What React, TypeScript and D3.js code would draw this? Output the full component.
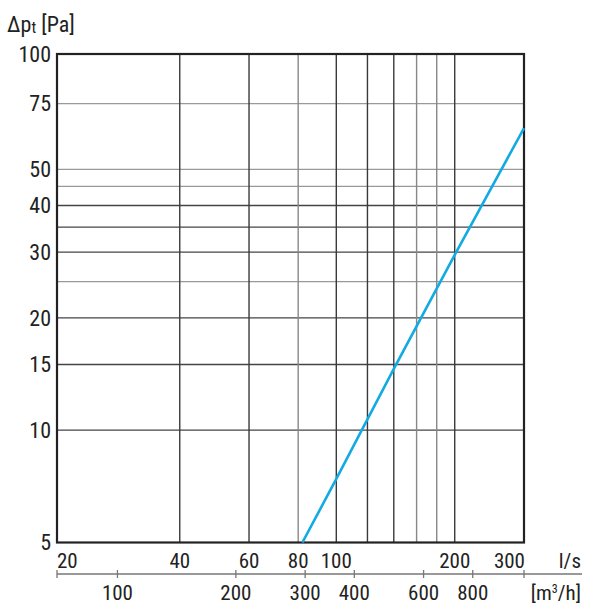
import React from "react";
import * as d3 from "d3";

const flowLs = [82, 100, 140, 200, 300];
const pressurePa = [5, 7.4, 14.6, 29.5, 64.5];

const yTicks = [100, 75, 50, 40, 30, 20, 15, 10, 5];
const yGrid = [75, 50, 45, 40, 35, 30, 25, 20, 15, 10];
const yGridDark = [40, 35, 30, 20, 15, 10];
const xGrid = [40, 60, 80, 100, 120, 140, 160, 180, 200];
const xGridDark = [40, 60, 100, 120, 140, 200];
const xTicksLs = [20, 40, 60, 80, 100, 200, 300];
const xTicksM3h = [100, 200, 300, 400, 600, 800];

const W = 600, H = 615;
const L = 57, R = 524, T = 54, B = 542.5;
const FONT = "'Liberation Sans Narrow', 'Roboto Condensed', 'Liberation Sans', Arial, sans-serif";

export default function App() {
  const x = d3.scaleLog().domain([19.5, 300]).range([L, R]);
  const y = d3.scaleLog().domain([5, 100]).range([542.5, 57]);
  const line = d3.line<number>().x((d, i) => x(flowLs[i])).y((d) => y(d));
  const axisY = 574;
  const toLs = (m3h: number) => m3h / 3.6;

  return (
    <svg width={W} height={H} style={{ position: "absolute", left: 0, top: 0, background: "#fff" }} fontFamily={FONT}>
      <rect x={0} y={0} width={W} height={H} fill="#fff" />
      {yGrid.map((v) => (
        <line key={"h" + v} x1={L} x2={R} y1={y(v)} y2={y(v)}
          stroke={yGridDark.includes(v) ? "#444" : "#999"} strokeWidth={1.4} />
      ))}
      {xGrid.map((v) => (
        <line key={"v" + v} x1={x(v)} x2={x(v)} y1={T} y2={B}
          stroke={xGridDark.includes(v) ? "#3a3a3a" : "#888"} strokeWidth={1.4} />
      ))}
      <rect x={L} y={T} width={R - L} height={B - T} fill="none" stroke="#222" strokeWidth={2.2} />
      <path d={line(pressurePa) || ""} fill="none" stroke="#12aae2" strokeWidth={2.6} />
      {yTicks.map((v) => (
        <text key={"yt" + v} x={51} y={v === 100 ? T : y(v)} dy="0.35em" textAnchor="end" fontSize={22} fill="#222">{v}</text>
      ))}
      {xTicksLs.map((v, i) => (
        <text key={"xt" + v} x={i === 0 ? L : i === xTicksLs.length - 1 ? R + 1 : x(v)} y={568}
          textAnchor={i === 0 ? "start" : i === xTicksLs.length - 1 ? "end" : "middle"} fontSize={21} fill="#222">{v}</text>
      ))}
      <text x={581} y={568} textAnchor="end" fontSize={21} fill="#222">l/s</text>
      <line x1={L} x2={582} y1={axisY} y2={axisY} stroke="#777" strokeWidth={1.3} />
      {[L, ...xTicksM3h.map((v) => x(toLs(v))), R].map((px, i) => (
        <line key={"mt" + i} x1={px} x2={px} y1={axisY - 4} y2={axisY + 4} stroke="#777" strokeWidth={1.3} />
      ))}
      {xTicksM3h.map((v) => (
        <text key={"mx" + v} x={x(toLs(v))} y={600} textAnchor="middle" fontSize={21} fill="#222">{v}</text>
      ))}
      <text x={581} y={600} textAnchor="end" fontSize={21} fill="#222">
        [m<tspan dy={-7} fontSize={12}>3</tspan><tspan dy={7}>/h]</tspan>
      </text>
      <text x={7} y={32} fontSize={22} fill="#222">
        Δp<tspan fontSize={16} dy={1}>t</tspan><tspan dy={-1}> [Pa]</tspan>
      </text>
    </svg>
  );
}
